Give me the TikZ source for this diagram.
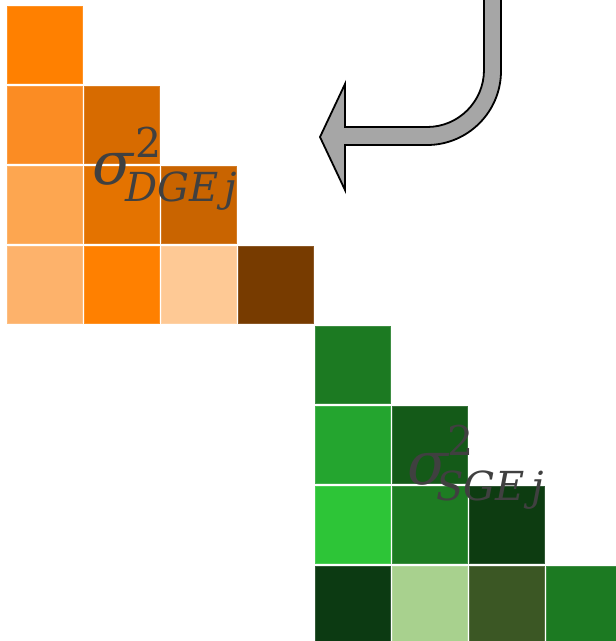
\documentclass[tikz,border=0pt]{standalone}
\usepackage{fontspec}
\newfontfamily\dvs{DejaVu Serif}
\begin{document}
\begin{tikzpicture}[x=1pt,y=-1pt,
  cellbox/.style={line width=0.6pt},
  lbl/.style={inner sep=0pt,outer sep=0pt,anchor=base west,text=labelgray},
  arrowshape/.style={fill=arrowgray,draw=black,line width=1.8pt,line join=miter}]
\definecolor{labelgray}{HTML}{404040}
\definecolor{arrowgray}{HTML}{A6A6A6}
\definecolor{o00}{HTML}{FF8000}
\definecolor{o01}{HTML}{FB8C23}
\definecolor{o11}{HTML}{D76B00}
\definecolor{o02}{HTML}{FDA650}
\definecolor{o12}{HTML}{E47300}
\definecolor{o22}{HTML}{C96400}
\definecolor{o03}{HTML}{FDB26B}
\definecolor{o13}{HTML}{FF8000}
\definecolor{o23}{HTML}{FEC995}
\definecolor{o33}{HTML}{773B00}
\definecolor{g44}{HTML}{1C7A22}
\definecolor{g45}{HTML}{24A52F}
\definecolor{g55}{HTML}{145A18}
\definecolor{g46}{HTML}{2DC537}
\definecolor{g56}{HTML}{1D7C22}
\definecolor{g66}{HTML}{0D3C11}
\definecolor{g47}{HTML}{0C3A12}
\definecolor{g57}{HTML}{A8D18E}
\definecolor{g67}{HTML}{3B5724}
\definecolor{g77}{HTML}{1C7A22}
\useasboundingbox (0,0) rectangle (616,641);
\clip (0,0) rectangle (616,641);
% cells: column i, row j
\foreach \i/\j/\c in {0/0/o00,0/1/o01,1/1/o11,0/2/o02,1/2/o12,2/2/o22,0/3/o03,1/3/o13,2/3/o23,3/3/o33,
  4/4/g44,4/5/g45,5/5/g55,4/6/g46,5/6/g56,6/6/g66,4/7/g47,5/7/g57,6/7/g67,7/7/g77}{
  \path[cellbox,fill=\c,draw=\c!85!white] ({7+77*\i},{6+80*\j}) rectangle ++(75,77);
}
% bent arrow
\draw[arrowshape]
  (484,-10) -- (484,70) arc[start angle=0,end angle=90,radius=57]
  -- (345,127) -- (345,84) -- (320,137) -- (345,190) -- (345,145)
  -- (427,145) arc[start angle=90,end angle=0,radius=74] -- (501,-10);
% labels
\node[lbl,font=\dvs\itshape\fontsize{60}{60}\selectfont] (sigD) at (92,184) {σ};
\node[lbl,font=\dvs\fontsize{41}{41}\selectfont] (supD) at (135,157) {2};
\node[lbl,font=\dvs\itshape\fontsize{40}{40}\selectfont] (subD) at (125,201) {DGE\,j};
\node[lbl,font=\dvs\itshape\fontsize{60}{60}\selectfont] (sigS) at (407,484) {σ};
\node[lbl,font=\dvs\fontsize{41}{41}\selectfont] (supS) at (447,455) {2};
\node[lbl,font=\dvs\itshape\fontsize{40}{40}\selectfont] (subS) at (436,500) {SGE\,j};
\end{tikzpicture}
\end{document}
